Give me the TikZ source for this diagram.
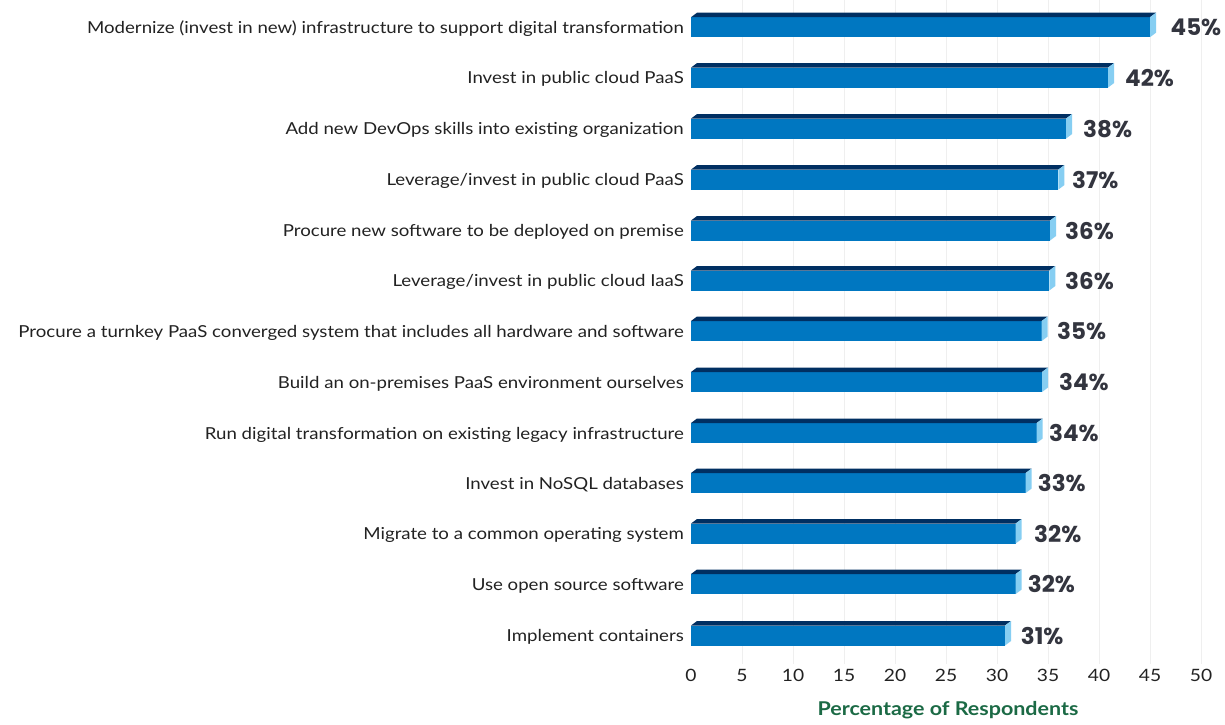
\documentclass[tikz,border=0pt]{standalone}
\usepackage{fontspec}
\setmainfont{Lato}[FakeStretch=1.13]
\newfontfamily\valfont{Poppins}
\definecolor{cfront}{HTML}{0077C1}
\definecolor{ctop}{HTML}{002F62}
\definecolor{cside}{HTML}{86CEF2}
\definecolor{cval}{HTML}{33353F}
\definecolor{cgrid}{HTML}{EFEFEF}
\definecolor{ctitle}{HTML}{1B6A45}
\definecolor{ctext}{HTML}{222222}
\tikzset{
  frontface/.style={fill=cfront, draw=none, inner sep=0pt, outer sep=0pt, minimum height=20pt, anchor=west},
  cat/.style={anchor=east, font=\fontsize{16.5}{18}\selectfont, text=ctext, inner sep=0pt},
  val/.style={anchor=west, font=\valfont\bfseries\fontsize{23}{26}\selectfont, text=cval, inner sep=0pt},
  ticklab/.style={font=\fontsize{17}{19}\selectfont, text=ctext, inner sep=0pt},
  gridline/.style={draw=cgrid, line width=1pt},
  axtitle/.style={font=\bfseries\fontsize{19}{22}\selectfont, text=ctitle, inner sep=0pt},
}
\newcommand\mkbar[6]{%
  \node[frontface, minimum width={(#3-691)*1pt}] (#1) at (691,#2) {};
  \fill[ctop] (#1.north west) -- ++(6,-4.5) -- ([xshift=6pt,yshift=4.5pt]#1.north east) -- (#1.north east) -- cycle;
  \fill[cside] (#1.north east) -- ++(6,-4.5) -- ([xshift=6pt,yshift=4.5pt]#1.south east) -- (#1.south east) -- cycle;
  \node[cat] (#1c) at (684,#2+1.5) {#6};
  \node[val] (#1v) at (#5,#2+0.5) {#4};
}
\begin{document}
\begin{tikzpicture}[x=1pt,y=-1pt]
\useasboundingbox (0,0) rectangle (1225,724);
\fill[white] (0,0) rectangle (1225,724);
\foreach \v in {5,10,...,50}{
  \draw[gridline] ({691+10.2*\v},0) -- ({691+10.2*\v},664);
}
\foreach \v in {0,5,...,50}{
  \node[ticklab] (t\v) at ({691+10.2*\v},675) {\v};
}
\mkbar{b1}{27.2}{1150}{45\%}{1170.5}{Modernize (invest in new) infrastructure to support digital transformation}
\mkbar{b2}{77.6}{1108}{42\%}{1125}{Invest in public cloud PaaS}
\mkbar{b3}{128.6}{1066}{38\%}{1083}{Add new DevOps skills into existing organization}
\mkbar{b4}{179.6}{1058.3}{37\%}{1072}{Leverage/invest in public cloud PaaS}
\mkbar{b5}{230.5}{1050}{36\%}{1065}{Procure new software to be deployed on premise}
\mkbar{b6}{280.5}{1049.3}{36\%}{1065}{Leverage/invest in public cloud IaaS}
\mkbar{b7}{331}{1041.7}{35\%}{1057}{Procure a turnkey PaaS converged system that includes all hardware and software}
\mkbar{b8}{382}{1042}{34\%}{1059}{Build an on-premises PaaS environment ourselves}
\mkbar{b9}{433}{1036.7}{34\%}{1049}{Run digital transformation on existing legacy infrastructure}
\mkbar{b10}{483}{1025.7}{33\%}{1037.7}{Invest in NoSQL databases}
\mkbar{b11}{533.5}{1015.7}{32\%}{1034}{Migrate to a common operating system}
\mkbar{b12}{584}{1015.7}{32\%}{1027.7}{Use open source software}
\mkbar{b13}{635.5}{1005}{31\%}{1020.7}{Implement containers}
\node[axtitle] (title) at (948,710) {Percentage of Respondents};
\end{tikzpicture}
\end{document}
